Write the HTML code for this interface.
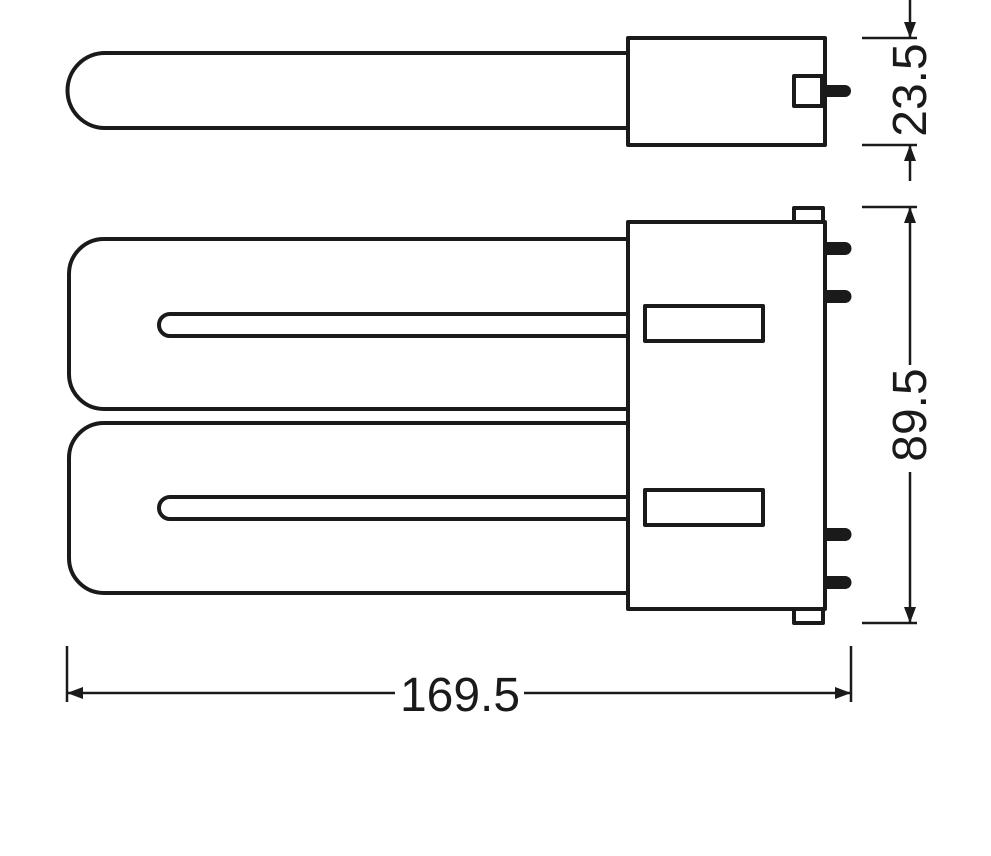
<!DOCTYPE html>
<html><head><style>html,body{margin:0;padding:0;background:#fff}</style></head>
<body>
<svg width="991" height="851" viewBox="0 0 991 851" xmlns="http://www.w3.org/2000/svg">
<defs>
<marker id="a" markerWidth="16" markerHeight="14" refX="15" refY="7" orient="auto" markerUnits="userSpaceOnUse">
<path d="M0,1 L16,7 L0,13 Z" fill="#1a1a1a"/></marker>
</defs>
<g fill="none" stroke="#1a1a1a" stroke-width="4" stroke-linejoin="round">
<path d="M628,53 H105 A37.5,37.5 0 0 0 105,128 H628"/>
<rect x="628" y="38" width="197" height="107"/>
<rect x="794" y="76" width="28" height="30"/>
<path d="M628,239 H104 A35,35 0 0 0 69,274 V374 A35,35 0 0 0 104,409 H628"/>
<path d="M628,314 H170 A11,11 0 0 0 170,336 H628"/>
<path d="M628,423 H104 A35,35 0 0 0 69,458 V558 A35,35 0 0 0 104,593 H628"/>
<path d="M628,497 H170 A11,11 0 0 0 170,519 H628"/>
<rect x="628" y="222" width="197" height="387"/>
<rect x="794" y="208" width="29" height="14"/>
<rect x="794" y="609" width="29" height="14"/>
<rect x="645" y="306" width="118" height="35"/>
<rect x="645" y="490" width="118" height="35"/>
</g>
<g fill="#1a1a1a">
<path d="M825,85 H845 A6,6 0 0 1 845,97 H825 Z"/>
<path d="M825,242 H845 A6.5,6.5 0 0 1 845,255 H825 Z"/>
<path d="M825,290 H845 A6.5,6.5 0 0 1 845,303 H825 Z"/>
<path d="M825,528 H845 A6.5,6.5 0 0 1 845,541 H825 Z"/>
<path d="M825,576 H845 A6.5,6.5 0 0 1 845,589 H825 Z"/>
</g>
<g stroke="#1a1a1a" stroke-width="2.5" fill="none">
<line x1="862" y1="38" x2="917" y2="38"/>
<line x1="862" y1="145" x2="917" y2="145"/>
<line x1="910" y1="0" x2="910" y2="37" marker-end="url(#a)"/>
<line x1="910" y1="181" x2="910" y2="146" marker-end="url(#a)"/>
<line x1="862" y1="207" x2="917" y2="207"/>
<line x1="862" y1="623" x2="917" y2="623"/>
<line x1="910" y1="365" x2="910" y2="208" marker-end="url(#a)"/>
<line x1="910" y1="472" x2="910" y2="622" marker-end="url(#a)"/>
<line x1="67" y1="646" x2="67" y2="702"/>
<line x1="851" y1="646" x2="851" y2="702"/>
<line x1="395" y1="693" x2="68" y2="693" marker-end="url(#a)"/>
<line x1="524" y1="693" x2="850" y2="693" marker-end="url(#a)"/>
</g>
<g font-family="Liberation Sans, sans-serif" font-size="48" fill="#1a1a1a" text-anchor="middle">
<text x="460" y="711">169.5</text>
<text transform="translate(926,90) rotate(-90)" x="0" y="0">23.5</text>
<text transform="translate(926,415) rotate(-90)" x="0" y="0">89.5</text>
</g>
</svg>
</body></html>
